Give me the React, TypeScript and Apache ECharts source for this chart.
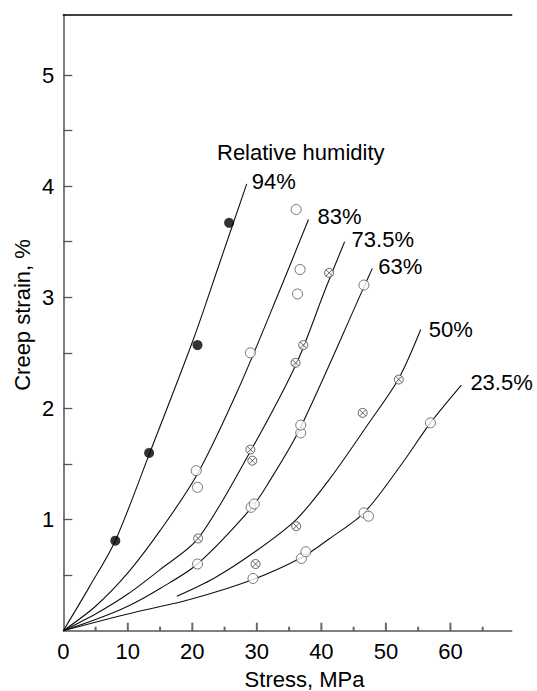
import React, { useEffect, useRef } from "react";
import * as echarts from "echarts";

// ---- axis ticks ----
const xMajorTicks = [0, 10, 20, 30, 40, 50, 60];
const xMinorTicks = [5, 15, 25, 35, 45, 55, 65];
const yLabelTicks = [1, 2, 3, 4, 5];
const yAllTicks = [0.5, 1, 1.5, 2, 2.5, 3, 3.5, 4, 4.5, 5];

// ---- curve labels ----
const humidityLabels = ["94%", "83%", "73.5%", "63%", "50%", "23.5%"];

// ---- fitted curves (stress MPa, creep strain %) ----
const curve94 = [[0, 0], [4, 0.39], [8.06, 0.81], [13.4, 1.6], [20.15, 2.62], [24.3, 3.32], [28.43, 4.02]];
const curve83 = [[0, 0], [5, 0.22], [10, 0.52], [15, 0.9], [20.7, 1.4], [27.1, 2.17], [33.6, 3.07], [38.0, 3.7]];
const curve735 = [[0, 0], [5, 0.15], [10, 0.33], [15, 0.55], [20.9, 0.83], [29.05, 1.62], [36.1, 2.4], [40.6, 3.07], [43.6, 3.5]];
const curve63 = [[0, 0], [5, 0.1], [10, 0.22], [15, 0.38], [20.8, 0.6], [29.1, 1.1], [31.8, 1.33], [36.7, 1.82], [46.5, 3.08], [47.9, 3.26]];
const curve50 = [[17.6, 0.31], [23.3, 0.47], [29.7, 0.71], [36.1, 1.0], [41.35, 1.37], [47.5, 1.88], [52.0, 2.27], [55.4, 2.71]];
const curve235 = [[0, 0], [10, 0.15], [19.6, 0.28], [29.4, 0.46], [37, 0.66], [41.3, 0.83], [46.6, 1.06], [52.2, 1.48], [56.9, 1.87], [61.7, 2.21]];

// ---- measured points ----
const pts94 = [[8.06, 0.81], [13.3, 1.6], [20.8, 2.57], [25.7, 3.67]];
const pts83 = [[20.6, 1.44], [20.8, 1.29], [29.0, 2.5], [36.3, 3.03], [36.7, 3.25], [36.1, 3.79]];
const pts735 = [[20.9, 0.83], [29.0, 1.63], [29.3, 1.53], [36.0, 2.41], [37.2, 2.57], [41.2, 3.22]];
const pts63 = [[20.8, 0.6], [29.1, 1.11], [29.6, 1.14], [36.8, 1.78], [36.8, 1.85], [46.6, 3.11]];
const pts50 = [[29.8, 0.6], [36.1, 0.94], [46.4, 1.96], [52.0, 2.26]];
const pts235 = [[29.4, 0.47], [36.9, 0.65], [37.6, 0.71], [46.6, 1.06], [47.3, 1.03], [56.9, 1.87]];

const FONT = "'Liberation Sans', Arial, Helvetica, sans-serif";
const CROSS = "path://M20,10A10,10,0,1,1,0,10A10,10,0,1,1,20,10ZM2.93,2.93L17.07,17.07M17.07,2.93L2.93,17.07";
const AXIS_GRAY = "#555";
const Y_MAX = 5.54;
const PLOT_H = 615.7;

export default function App() {
  const ref = useRef<HTMLDivElement>(null);
  useEffect(() => {
    if (!ref.current) return;
    const chart = echarts.init(ref.current, null, { renderer: "svg" });

    const curves = [curve94, curve83, curve735, curve63, curve50, curve235];
    const labelOffsets = [[5, -2], [9, -3], [7, -2], [6, -2], [8, 0], [9, -3]];

    const curveSeries = curves.map((d, i) => ({
      type: "line",
      data: d,
      smooth: 0.3,
      showSymbol: false,
      symbol: "none",
      lineStyle: { color: "#111", width: 1.1 },
      silent: true,
      endLabel: {
        show: true,
        formatter: humidityLabels[i],
        fontSize: 22,
        fontFamily: FONT,
        color: "#000",
        align: "left",
        verticalAlign: "middle",
        distance: 0,
        offset: labelOffsets[i],
      },
      z: 2,
    }));

    const openStyle = { color: "#fff", borderColor: "#555", borderWidth: 1 };
    const crossStyle = { color: "#fff", borderColor: "#444", borderWidth: 1 };

    const scatter = (data: number[][], symbol: string, size: number, itemStyle: any) => ({
      type: "scatter",
      data,
      symbol,
      symbolSize: size,
      itemStyle,
      z: 3,
      silent: true,
    });

    // inside tick marks of the stress axis (a short rect standing on the axis line)
    const pxToY = (px: number) => (px * Y_MAX) / PLOT_H;
    const tickSeries = (values: number[], len: number) => ({
      type: "scatter",
      data: values.map((v) => [v, pxToY(len / 2)]),
      symbol: "rect",
      symbolSize: [2, len],
      itemStyle: { color: "#444" },
      clip: false,
      silent: true,
      z: 10,
    });

    chart.setOption({
      animation: false,
      grid: { left: 63.3, top: 15, width: 448.4, height: PLOT_H, containLabel: false },
      xAxis: [
        {
          type: "value",
          min: 0,
          max: 69.5,
          interval: 10,
          position: "bottom",
          axisLine: { show: true, lineStyle: { color: AXIS_GRAY, width: 1.5 } },
          axisTick: { show: false },
          axisLabel: { customValues: xMajorTicks, fontSize: 22, fontFamily: FONT, color: "#000", margin: 10 },
          splitLine: { show: false },
        },
        {
          type: "value",
          min: 0,
          max: 69.5,
          position: "top",
          axisLine: { show: true, lineStyle: { color: "#000", width: 1.5 } },
          axisTick: { show: false },
          axisLabel: { show: false },
          splitLine: { show: false },
        },
      ],
      yAxis: [
        {
          type: "value",
          min: 0,
          max: Y_MAX,
          interval: 1,
          axisLine: { show: true, lineStyle: { color: AXIS_GRAY, width: 1.5 } },
          axisTick: { show: true, inside: true, length: 9, customValues: yAllTicks, lineStyle: { color: AXIS_GRAY, width: 1.3 } },
          axisLabel: { customValues: yLabelTicks, fontSize: 22, fontFamily: FONT, color: "#000", margin: 9 },
          splitLine: { show: false },
        },
      ],
      graphic: [
        {
          type: "text",
          x: 217,
          y: 152,
          style: { text: "Relative humidity", fontSize: 22, fontFamily: FONT, fill: "#000", align: "left", verticalAlign: "middle" },
        },
        {
          type: "text",
          x: 304.5,
          y: 679,
          style: { text: "Stress, MPa", fontSize: 22, fontFamily: FONT, fill: "#000", align: "center", verticalAlign: "middle" },
        },
        {
          type: "text",
          x: 22,
          y: 315,
          rotation: Math.PI / 2,
          style: { text: "Creep strain, %", fontSize: 22, fontFamily: FONT, fill: "#000", align: "center", verticalAlign: "middle" },
        },
      ],
      series: [
        ...curveSeries,
        scatter(pts94, "circle", 10, { color: "#000" }),
        scatter(pts83, "circle", 10, openStyle),
        scatter(pts735, CROSS, 9, crossStyle),
        scatter(pts63, "circle", 10, openStyle),
        scatter(pts50, CROSS, 9, crossStyle),
        scatter(pts235, "circle", 10, openStyle),
        tickSeries(xMajorTicks.slice(1), 8),
        tickSeries(xMinorTicks, 4),
      ],
    });

    return () => chart.dispose();
  }, []);
  return <div ref={ref} style={{ position: "fixed", left: 0, top: 0, width: 537, height: 691, background: "#fff" }} />;
}
